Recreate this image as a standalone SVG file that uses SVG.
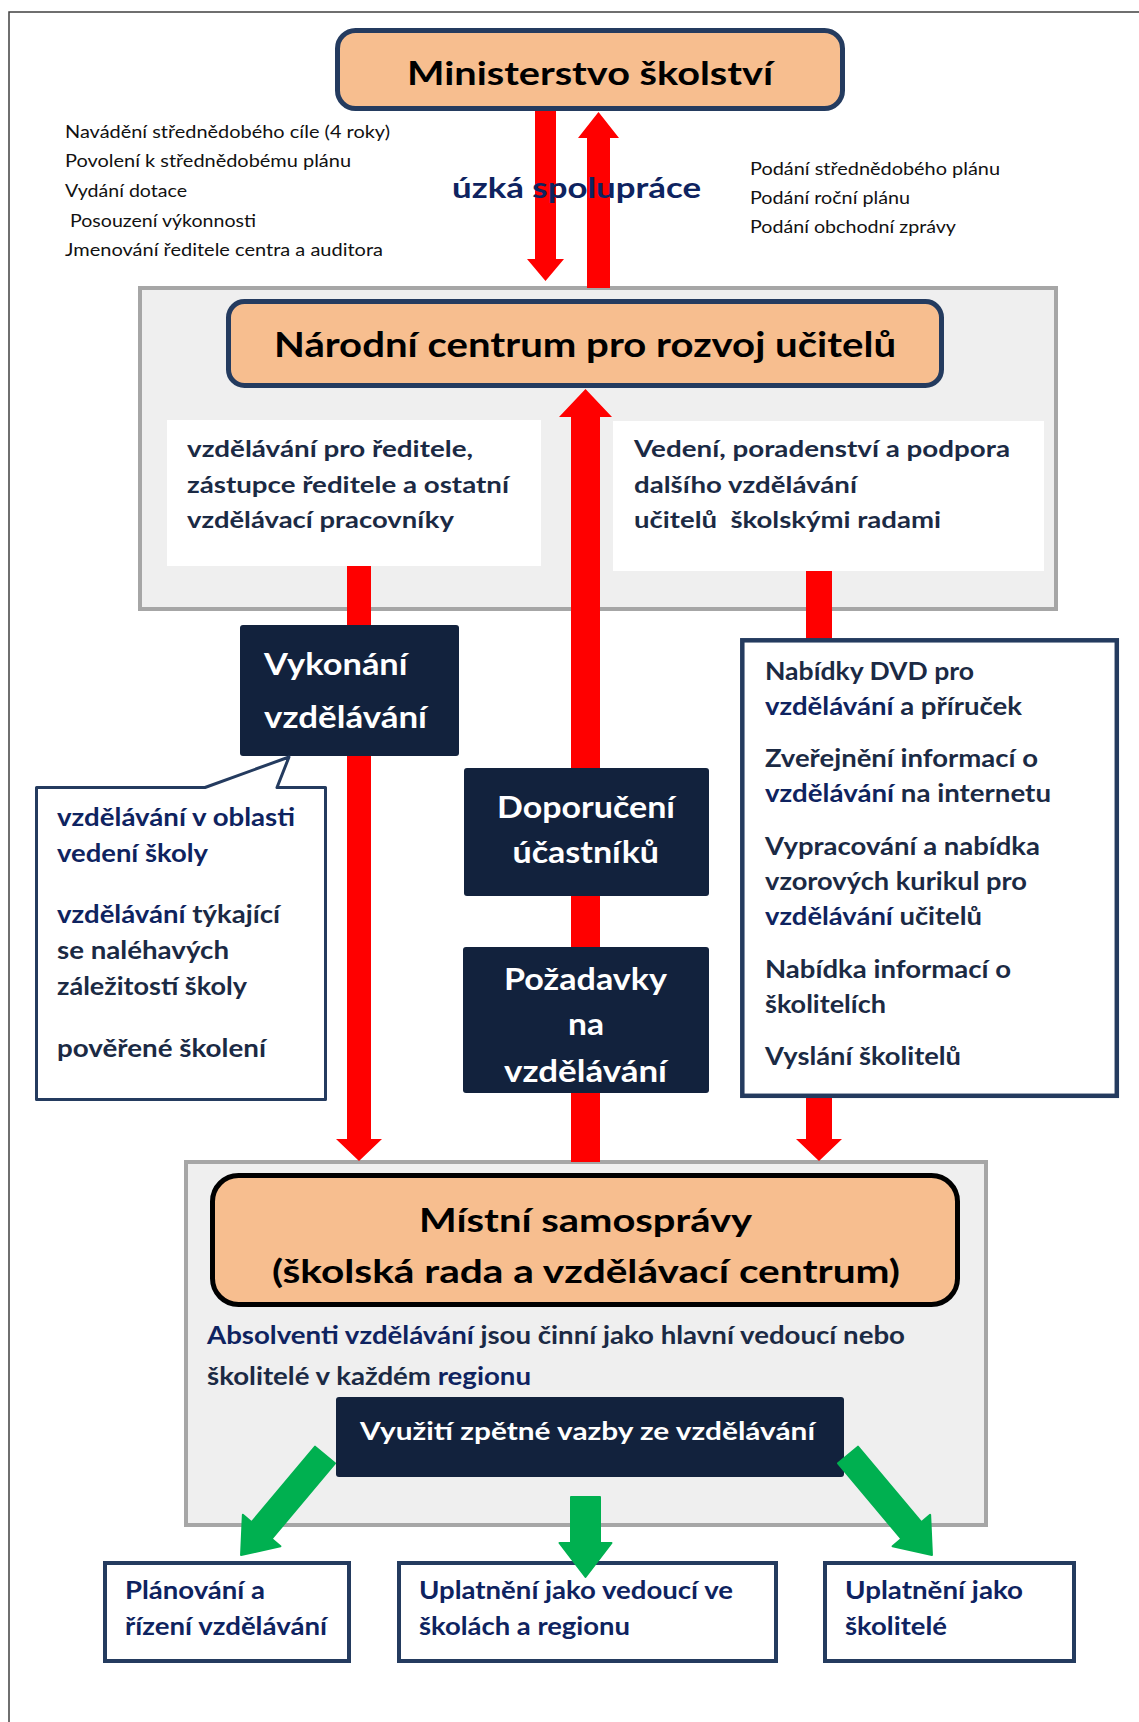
<svg xmlns="http://www.w3.org/2000/svg" width="1139" height="1722" viewBox="0 0 1139 1722">
  <style>
    text { font-family: Lato, "Open Sans", "Liberation Sans", sans-serif; }
    .b { font-weight: 700; }
    .note { font-size: 17px; fill: #111; }
    .title { font-size: 33px; font-weight: 700; fill: #000; }
    .body { font-size: 22px; font-weight: 700; fill: #1b2a44; }
    .item { font-size: 24px; font-weight: 700; fill: #1b2a44; }
    .blue { fill: #0e2360; }
    .inv { font-size: 31px; font-weight: 700; fill: #fff; }
    .panel { fill: #efefef; stroke: #a6a6a6; stroke-width: 4; }
    .org { fill: #f7be8f; stroke: #243b5f; stroke-width: 5; }
    .dark { fill: #12223d; }
    .frame { fill: #fff; stroke: #243b5f; stroke-width: 4; }
    .red { fill: #ff0000; }
    .green { fill: #00b050; stroke: #00b050; stroke-width: 2; stroke-linejoin: round; }
  </style>
  <defs>
    <path id="diag-arrow" d="M-13,0 H13 V98.6 H24.5 L0,130.6 L-24.5,98.6 H-13 Z"/>
  </defs>

  <!-- page frame -->
  <path d="M9,1722 V12 H1139" fill="none" stroke="#404040" stroke-width="1.5"/>

  <!-- background panels -->
  <g id="panel-centrum">
    <rect class="panel" x="140" y="288" width="916" height="321"/>
  </g>
  <g id="panel-samospravy">
    <rect class="panel" x="186" y="1162" width="800" height="363"/>
  </g>

  <!-- ministry -->
  <g id="ministerstvo">
    <rect class="org" x="337.5" y="30.5" width="505" height="78" rx="18"/>
    <text class="title" x="407" y="85" textLength="366" lengthAdjust="spacingAndGlyphs">Ministerstvo školství</text>
  </g>

  <!-- ministry duties / centre reports -->
  <g id="povinnosti-ministerstva" class="note">
    <text x="65" y="138" textLength="325" lengthAdjust="spacingAndGlyphs">Navádění střednědobého cíle (4 roky)</text>
    <text x="65" y="167" textLength="286" lengthAdjust="spacingAndGlyphs">Povolení k střednědobému plánu</text>
    <text x="65" y="197" textLength="122" lengthAdjust="spacingAndGlyphs">Vydání dotace</text>
    <text x="70" y="227" textLength="186" lengthAdjust="spacingAndGlyphs">Posouzení výkonnosti</text>
    <text x="65" y="256" textLength="318" lengthAdjust="spacingAndGlyphs">Jmenování ředitele centra a auditora</text>
  </g>
  <g id="vystupy-centra" class="note">
    <text x="750" y="175" textLength="250" lengthAdjust="spacingAndGlyphs">Podání střednědobého plánu</text>
    <text x="750" y="204" textLength="160" lengthAdjust="spacingAndGlyphs">Podání roční plánu</text>
    <text x="750" y="233" textLength="206" lengthAdjust="spacingAndGlyphs">Podání obchodní zprávy</text>
  </g>

  <!-- national centre -->
  <g id="narodni-centrum">
    <rect class="org" x="228.5" y="301.5" width="713" height="84" rx="16"/>
    <text class="title" style="font-size:34px" x="274" y="357" textLength="622" lengthAdjust="spacingAndGlyphs">Národní centrum pro rozvoj učitelů</text>
  </g>
  <g id="vzdelavani-reditelu">
    <rect x="167" y="420" width="374" height="146" fill="#fff"/>
    <text class="body" x="187" y="457" textLength="286" lengthAdjust="spacingAndGlyphs">vzdělávání pro ředitele,</text>
    <text class="body" x="187" y="493" textLength="322" lengthAdjust="spacingAndGlyphs">zástupce ředitele a ostatní</text>
    <text class="body" x="187" y="528" textLength="267" lengthAdjust="spacingAndGlyphs">vzdělávací pracovníky</text>
  </g>
  <g id="vedeni-poradenstvi">
    <rect x="613" y="421" width="431" height="150" fill="#fff"/>
    <text class="body" x="634" y="457" textLength="376" lengthAdjust="spacingAndGlyphs">Vedení, poradenství a podpora</text>
    <text class="body" x="634" y="493" textLength="223" lengthAdjust="spacingAndGlyphs">dalšího vzdělávání</text>
    <text class="body" x="634" y="528" textLength="307" lengthAdjust="spacingAndGlyphs" xml:space="preserve">učitelů  školskými radami</text>
  </g>

  <!-- local governments -->
  <g id="mistni-samospravy">
    <rect class="org" x="212.5" y="1175.5" width="745" height="129" rx="26" style="stroke:#000"/>
    <text class="title" x="419" y="1232" textLength="333" lengthAdjust="spacingAndGlyphs">Místní samosprávy</text>
    <text class="title" x="272" y="1283" textLength="628" lengthAdjust="spacingAndGlyphs">(školská rada a vzdělávací centrum)</text>
  </g>
  <g id="absolventi">
    <text class="item" x="207" y="1344" textLength="698" lengthAdjust="spacingAndGlyphs"><tspan class="blue">Absolventi vzdělávání</tspan> jsou činní jako hlavní vedoucí nebo</text>
    <text class="item" x="207" y="1385" textLength="324" lengthAdjust="spacingAndGlyphs">školitelé v každém <tspan class="blue">regionu</tspan></text>
  </g>
  <g id="zpetna-vazba">
    <rect class="dark" x="336" y="1397" width="508" height="80" rx="3"/>
    <text class="inv" style="font-size:25px" x="360" y="1440" textLength="455" lengthAdjust="spacingAndGlyphs">Využití zpětné vazby ze vzdělávání</text>
  </g>

  <!-- outcomes -->
  <g id="planovani">
    <rect class="frame" x="105" y="1563" width="244" height="98"/>
    <text class="item blue" x="125" y="1599" textLength="140" lengthAdjust="spacingAndGlyphs">Plánování a</text>
    <text class="item blue" x="125" y="1635" textLength="202" lengthAdjust="spacingAndGlyphs">řízení vzdělávání</text>
  </g>
  <g id="uplatneni-vedouci">
    <rect class="frame" x="399" y="1563" width="377" height="98"/>
    <text class="item blue" x="419" y="1599" textLength="314" lengthAdjust="spacingAndGlyphs">Uplatnění jako vedoucí ve</text>
    <text class="item blue" x="419" y="1635" textLength="211" lengthAdjust="spacingAndGlyphs">školách a regionu</text>
  </g>
  <g id="uplatneni-skolitele">
    <rect class="frame" x="825" y="1563" width="249" height="98"/>
    <text class="item blue" x="845" y="1599" textLength="178" lengthAdjust="spacingAndGlyphs">Uplatnění jako</text>
    <text class="item blue" x="845" y="1635" textLength="102" lengthAdjust="spacingAndGlyphs">školitelé</text>
  </g>

  <!-- connectors -->
  <g id="connectors">
    <polygon class="red" points="535,111 556,111 556,259 564,259 545.5,281 527,259 535,259"/>
    <polygon class="red" points="587,288 610,288 610,138 619,138 598.5,112 578,138 587,138"/>
    <polygon class="red" points="571,1162 600,1162 600,417 612,417 585.5,389 559,417 571,417"/>
    <polygon class="red" points="347,566 371,566 371,1139 382,1139 359,1161 336,1139 347,1139"/>
    <polygon class="red" points="806,571 832,571 832,1139 842,1139 819,1161 796,1139 806,1139"/>
    <use href="#diag-arrow" class="green" transform="translate(325,1455) rotate(40)"/>
    <use href="#diag-arrow" class="green" transform="translate(848,1455) rotate(-40)"/>
    <path class="green" d="M571,1497 H600 V1543 H611.5 L585.5,1577 L559.5,1543 H571 Z"/>
    <text class="b" x="452" y="198" font-size="29" fill="#0e2360" textLength="249" lengthAdjust="spacingAndGlyphs">úzká spolupráce</text>
  </g>

  <!-- training delivery -->
  <g id="vykonani-vzdelavani">
    <rect class="dark" x="240" y="625" width="219" height="131" rx="3"/>
    <text class="inv" x="264" y="675" textLength="143.5" lengthAdjust="spacingAndGlyphs">Vykonání</text>
    <text class="inv" x="264" y="728" textLength="163" lengthAdjust="spacingAndGlyphs">vzdělávání</text>
  </g>
  <g id="oblasti-vzdelavani">
    <path d="M36.5,787.5 H205 L289,757 L277,787.5 H325.5 V1099.5 H36.5 Z" fill="#fff" stroke="#243b5f" stroke-width="3" stroke-linejoin="round"/>
    <text class="item blue" x="57" y="826" textLength="238" lengthAdjust="spacingAndGlyphs">vzdělávání v oblasti</text>
    <text class="item blue" x="57" y="862" textLength="151" lengthAdjust="spacingAndGlyphs">vedení školy</text>
    <text class="item" x="57" y="923" textLength="223" lengthAdjust="spacingAndGlyphs"><tspan class="blue">vzdělávání</tspan> týkající</text>
    <text class="item" x="57" y="959" textLength="172" lengthAdjust="spacingAndGlyphs">se naléhavých</text>
    <text class="item" x="57" y="995" textLength="190" lengthAdjust="spacingAndGlyphs">záležitostí školy</text>
    <text class="item" x="57" y="1057" textLength="209" lengthAdjust="spacingAndGlyphs">pověřené školení</text>
  </g>
  <g id="doporuceni-ucastniku">
    <rect class="dark" x="464" y="768" width="245" height="128" rx="3"/>
    <text class="inv" x="497" y="818" textLength="178" lengthAdjust="spacingAndGlyphs">Doporučení</text>
    <text class="inv" x="512.5" y="863" textLength="146.5" lengthAdjust="spacingAndGlyphs">účastníků</text>
  </g>
  <g id="pozadavky">
    <rect class="dark" x="463" y="947" width="246" height="146" rx="3"/>
    <text class="inv" x="504" y="990" textLength="163" lengthAdjust="spacingAndGlyphs">Požadavky</text>
    <text class="inv" x="568" y="1035" textLength="36" lengthAdjust="spacingAndGlyphs">na</text>
    <text class="inv" x="504" y="1082" textLength="163" lengthAdjust="spacingAndGlyphs">vzdělávání</text>
  </g>
  <g id="nabidky">
    <rect class="frame" x="742.3" y="640.3" width="374.5" height="455.5" style="stroke-width:4.5"/>
    <text class="item" x="765" y="680" textLength="209" lengthAdjust="spacingAndGlyphs">Nabídky DVD pro</text>
    <text class="item" x="765" y="715" textLength="257" lengthAdjust="spacingAndGlyphs"><tspan class="blue">vzdělávání</tspan> a příruček</text>
    <text class="item" x="765" y="767" textLength="273" lengthAdjust="spacingAndGlyphs">Zveřejnění informací o</text>
    <text class="item" x="765" y="802" textLength="286" lengthAdjust="spacingAndGlyphs"><tspan class="blue">vzdělávání</tspan> na internetu</text>
    <text class="item" x="765" y="855" textLength="275" lengthAdjust="spacingAndGlyphs">Vypracování a nabídka</text>
    <text class="item" x="765" y="890" textLength="262" lengthAdjust="spacingAndGlyphs">vzorových kurikul pro</text>
    <text class="item" x="765" y="925" textLength="217" lengthAdjust="spacingAndGlyphs"><tspan class="blue">vzdělávání</tspan> učitelů</text>
    <text class="item" x="765" y="978" textLength="246" lengthAdjust="spacingAndGlyphs">Nabídka informací o</text>
    <text class="item" x="765" y="1013" textLength="121" lengthAdjust="spacingAndGlyphs">školitelích</text>
    <text class="item" x="765" y="1065" textLength="196" lengthAdjust="spacingAndGlyphs">Vyslání školitelů</text>
  </g>
</svg>
